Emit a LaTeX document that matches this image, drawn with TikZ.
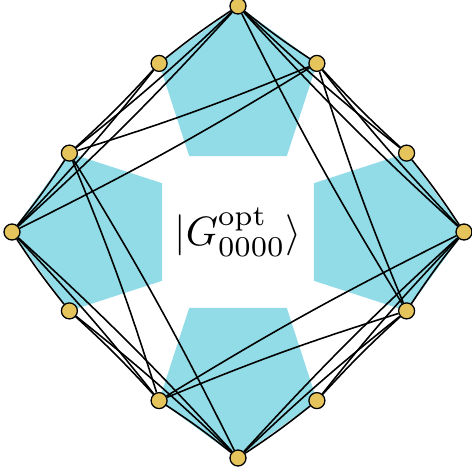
\documentclass[tikz,border=0pt]{standalone}
\usepackage{tikz}
\usepackage{amsmath}
\usetikzlibrary{backgrounds}
\definecolor{qubitcolor}{RGB}{230,196,92}
\definecolor{clustercolor}{RGB}{146,220,232}

\begin{document}
\begin{tikzpicture}[x=0.03cm, y=0.03cm,
    qubit/.style={circle, draw=black, line width=1.1pt, fill=qubitcolor,
                  minimum size=0.48cm, inner sep=0pt},
    link/.style={line width=1.35pt},
    cluster/.style={fill=clustercolor}]
  \useasboundingbox (-238,-242) rectangle (233,232);

  \node[qubit] (T)  at (0, 226) {};
  \node[qubit] (TR) at (78.9, 168.6) {};
  \node[qubit] (TL) at (-78.9, 168.6) {};
  \node[qubit] (R)  at (226, 0) {};
  \node[qubit] (RT) at (168.6, 78.9) {};
  \node[qubit] (RB) at (168.6, -78.9) {};
  \node[qubit] (B)  at (0, -226) {};
  \node[qubit] (BR) at (78.9, -168.6) {};
  \node[qubit] (BL) at (-78.9, -168.6) {};
  \node[qubit] (L)  at (-226, 0) {};
  \node[qubit] (LT) at (-168.6, 78.9) {};
  \node[qubit] (LB) at (-168.6, -78.9) {};

  \node[scale=3.5] (state) at (0, 0) {$|G^{\mathrm{opt}}_{0000}\rangle$};

  \begin{scope}[on background layer]
    \foreach \a in {90,0,-90,180}
      \fill[cluster, shift={(\a:143)}] (\a:83) -- (\a+72:83) -- (\a+144:83)
        -- (\a+216:83) -- (\a+288:83) -- cycle;

    \foreach \u/\v in {T/TL, T/TR, R/RT, R/RB, B/BR, B/BL, L/LB, L/LT,
                       T/RT, T/R, T/RB, TR/RT, TR/R, TR/RB,
                       R/BR, R/B, R/BL, RB/BR, RB/B, RB/BL,
                       B/LB, B/L, B/LT, BL/LB, BL/L, BL/LT,
                       L/TL, L/T, L/TR, LT/TL, LT/T, LT/TR}
      \draw[link] (\u) to[bend right=2.5] (\v);
  \end{scope}
\end{tikzpicture}
\end{document}
